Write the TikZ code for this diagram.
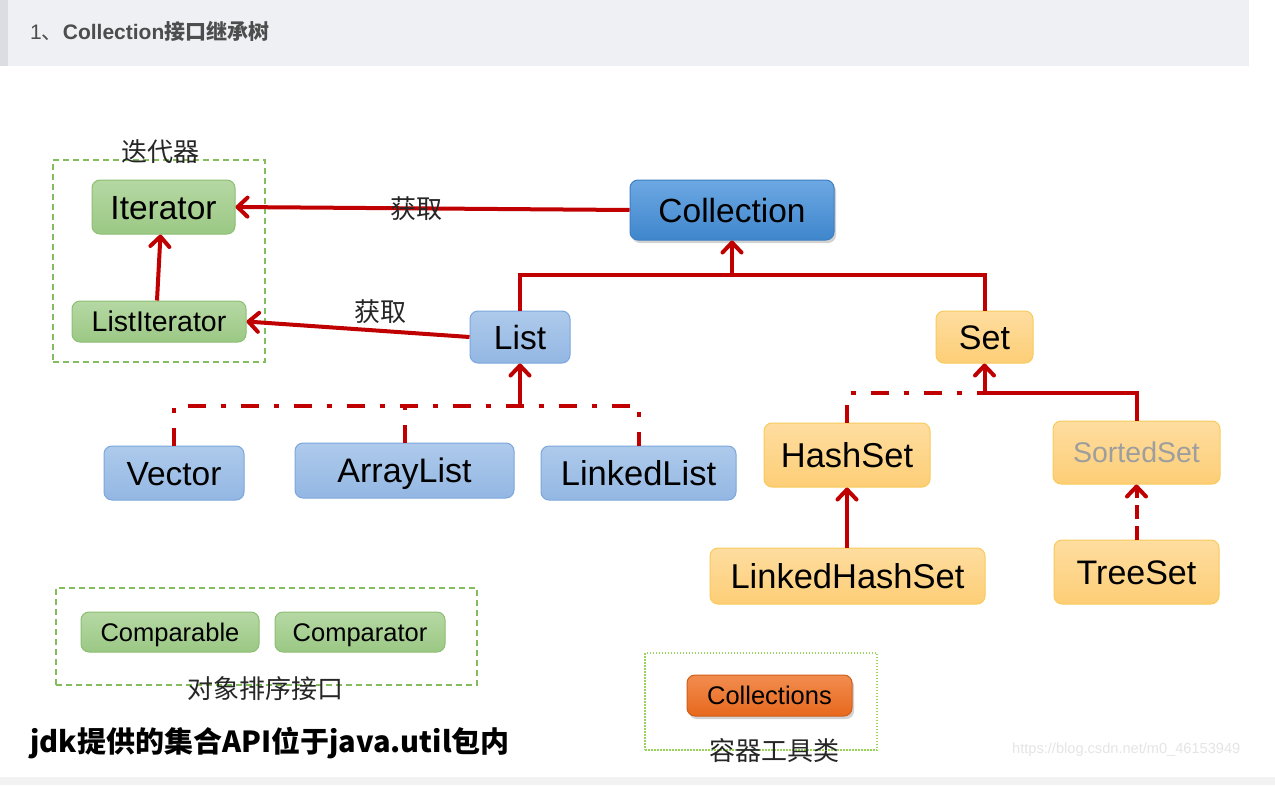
\documentclass[tikz,border=0pt]{standalone}
\usepackage{fontspec}
\setmainfont{Liberation Sans}
\newfontfamily\cjk{Noto Sans CJK SC}
\usetikzlibrary{arrows.meta,shadows}
\newcommand\fsz[1]{\fontsize{#1}{#1}\selectfont}
\definecolor{hdrbg}{HTML}{EFF0F4}
\definecolor{hdrstrip}{HTML}{DCDDE2}
\definecolor{hdrtext}{HTML}{4D4D4D}
\definecolor{redc}{HTML}{C00000}
\definecolor{gtop}{HTML}{B6D8A4}
\definecolor{gbot}{HTML}{9BC884}
\definecolor{gbrd}{HTML}{8CBF72}
\definecolor{ltop}{HTML}{AECAEB}
\definecolor{lbot}{HTML}{93B7E3}
\definecolor{lbrd}{HTML}{7BA7DC}
\definecolor{ctop}{HTML}{6CA8E3}
\definecolor{cbot}{HTML}{3F86CC}
\definecolor{cbrd}{HTML}{3D7FC1}
\definecolor{ytop}{HTML}{FEDDA0}
\definecolor{ybot}{HTML}{FDCE76}
\definecolor{ybrd}{HTML}{F9CB5B}
\definecolor{otop}{HTML}{F28D50}
\definecolor{obot}{HTML}{E7681C}
\definecolor{grpgreen}{HTML}{84BD5E}
\definecolor{dotgreen}{HTML}{9AD35C}
\begin{document}
\begin{tikzpicture}[x=1pt,y=-1pt,
  box/.style={rounded corners=8pt, line width=1pt, inner sep=0pt, text=black,
     text depth=0pt, execute at begin node=\vphantom{l}},
  greenbox/.style={box, draw=gbrd, top color=gtop, bottom color=gbot},
  bluebox/.style={box, draw=lbrd, top color=ltop, bottom color=lbot},
  darkbox/.style={box, draw=cbrd, top color=ctop, bottom color=cbot,
     drop shadow={shadow xshift=2pt, shadow yshift=-3pt, opacity=0.35}},
  yellowbox/.style={box, draw=ybrd, top color=ytop, bottom color=ybot},
  orangebox/.style={box, draw=obot!90!black, top color=otop, bottom color=obot,
     drop shadow={shadow xshift=2pt, shadow yshift=-3pt, opacity=0.35}},
  groupbox/.style={draw=grpgreen, line width=1.3pt, dash pattern=on 6pt off 4pt, inner sep=0pt},
  dotbox/.style={draw=dotgreen, line width=1.3pt, dash pattern=on 1.5pt off 1.5pt, inner sep=0pt},
  cjklabel/.style={font=\cjk\fsz{26}, text=black!85, inner sep=0pt},
  redline/.style={draw=redc, line width=4pt},
  tip/.style={-{Straight Barb[length=10pt,width=19pt,round]}},
  dashdot/.style={redline, dash pattern=on 18pt off 15pt on 5pt off 15pt},
  dashline/.style={redline, dash pattern=on 14pt off 7pt}
]
\useasboundingbox (0,0) rectangle (1275,785);
\fill[white] (0,0) rectangle (1275,785);
% header
\fill[hdrbg] (0,0) rectangle (1249,66);
\fill[hdrstrip] (0,0) rectangle (8,66);
\node[anchor=west, text=hdrtext, inner sep=0pt] (title) at (30,31)
  {\fsz{21}1\cjk 、\normalfont\bfseries Collection\cjk\bfseries 接口继承树};
% bottom band
\fill[black!5] (0,777) rectangle (1275,785);

% group boxes
\node[groupbox, minimum width=212pt, minimum height=202pt] (itgroup) at (159,261) {};
\node[groupbox, minimum width=421pt, minimum height=97pt] (sortgroup) at (266.5,636.5) {};
\node[dotbox, minimum width=232pt, minimum height=97pt] (toolgroup) at (761,701.5) {};

% nodes
\node[darkbox, minimum width=204pt, minimum height=60pt, font=\fsz{33.5}] (coll) at (732,210) {Collection};
\node[greenbox, minimum width=143pt, minimum height=54pt, font=\fsz{33.5}] (iter) at (163.5,207) {Iterator};
\node[greenbox, minimum width=174pt, minimum height=41pt, font=\fsz{28.5}] (listit) at (159,321.5) {ListIterator};
\node[bluebox, minimum width=100pt, minimum height=52pt, font=\fsz{33.5}] (list) at (520,337) {List};
\node[yellowbox, minimum width=97pt, minimum height=52pt, font=\fsz{34}] (set) at (984.5,337) {Set};
\node[bluebox, minimum width=140pt, minimum height=54pt, font=\fsz{33.5}] (vector) at (174,473) {Vector};
\node[bluebox, minimum width=219pt, minimum height=55pt, font=\fsz{34}] (arraylist) at (404.5,470.5) {ArrayList};
\node[bluebox, minimum width=195pt, minimum height=54pt, font=\fsz{34.5}] (linkedlist) at (638.5,473) {LinkedList};
\node[yellowbox, minimum width=166pt, minimum height=64pt, font=\fsz{34.5}] (hashset) at (847,455) {HashSet};
\node[yellowbox, minimum width=167pt, minimum height=63pt, font=\fsz{28.5}, text=black!38] (sortedset) at (1136.5,452.5) {SortedSet};
\node[yellowbox, minimum width=275pt, minimum height=56pt, font=\fsz{34.5}] (lhs) at (847.5,576) {LinkedHashSet};
\node[yellowbox, minimum width=165pt, minimum height=64pt, font=\fsz{34}] (treeset) at (1136.5,572) {TreeSet};
\node[greenbox, minimum width=178pt, minimum height=40pt, font=\fsz{25.5}] (comparable) at (170,632) {Comparable};
\node[greenbox, minimum width=170pt, minimum height=40pt, font=\fsz{25.5}] (comparator) at (360,632) {Comparator};
\node[orangebox, minimum width=165pt, minimum height=41pt, font=\fsz{25.5}] (collections) at (769.5,695.5) {Collections};

% labels
\node[cjklabel] (lblit) at (160,152) {迭代器};
\node[cjklabel] (lblsort) at (265,689) {对象排序接口};
\node[cjklabel] (lbltool) at (774,751) {容器工具类};
\node[anchor=west, inner sep=0pt, font=\cjk\bfseries\fsz{29}, text=black] (jdk) at (30,743) {jdk提供的集合API位于java.util包内};
\node[anchor=west, inner sep=0pt, font=\fsz{14.6}, text=black!10] (wm) at (1012,750) {https://blog.csdn.net/m0\_46153949};

% connectors
\draw[redline, tip] (coll.west) -- (iter.east);
\node[cjklabel] (get1) at (416,209) {获取};
\draw[redline, tip] (list.west) -- (listit.east);
\node[cjklabel] (get2) at (380,312) {获取};
\draw[redline, tip] ([xshift=-2pt]listit.north) -- ([xshift=-3pt]iter.south);

\coordinate (cj) at (732,275);
\draw[redline] (list.north) |- (cj) -| (set.north);
\draw[redline, tip] (cj) -- (coll.south);

\coordinate (lj) at (520,406);
\draw[dashdot] (vector.north) |- (lj) -| (linkedlist.north);
\draw[dashdot] (arraylist.north) -- (arraylist.north |- lj);
\draw[redline, tip] (lj) -- (list.south);

\coordinate (sj) at (984.5,393);
\draw[dashdot] (hashset.north) |- (sj);
\draw[redline] (sj) -| (sortedset.north);
\draw[redline, tip] (sj) -- (set.south);

\draw[redline, tip] (lhs.north -| hashset.south) -- (hashset.south);
\draw[dashline, tip] (treeset.north) -- (sortedset.south);
\end{tikzpicture}
\end{document}
